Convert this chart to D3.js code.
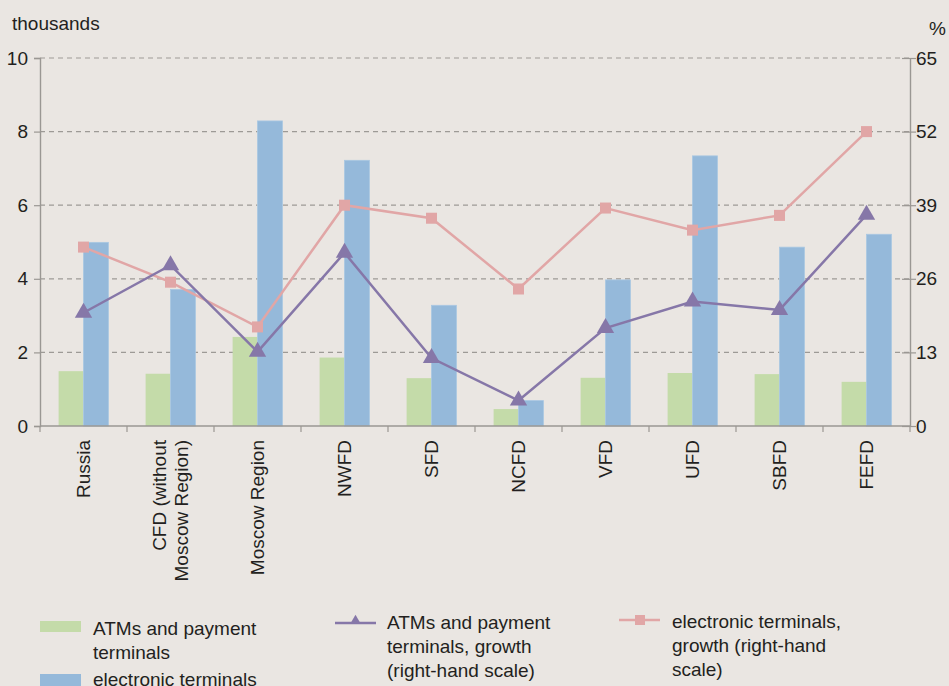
<!DOCTYPE html>
<html>
<head>
<meta charset="utf-8">
<script src="https://cdn.jsdelivr.net/npm/d3@7"></script>
<style>
  body { margin: 0; background: #eae6e2; }
  svg { display: block; font-family: "Liberation Sans", Arial, sans-serif; }
</style>
</head>
<body>
<svg width="949" height="686"></svg>
<script>
// regions (x axis)
var regions = ["Russia", "CFD (without|Moscow Region)", "Moscow Region", "NWFD", "SFD",
               "NCFD", "VFD", "UFD", "SBFD", "FEFD"];
// thousands, left-hand scale
var atms       = [1.49, 1.42, 2.42, 1.86, 1.30, 0.46, 1.31, 1.44, 1.41, 1.20];
var electronic = [4.99, 3.71, 8.29, 7.22, 3.28, 0.69, 3.97, 7.34, 4.86, 5.21];
// growth, %, right-hand scale
var atmsGrowth       = [20.0, 28.4, 13.1, 30.6, 12.0, 4.5, 17.3, 22.0, 20.5, 37.3];
var electronicGrowth = [31.6, 25.4, 17.5, 39.0, 36.7, 24.2, 38.5, 34.6, 37.2, 52.0];
var leftTicks = [0, 2, 4, 6, 8, 10];
var rightTicks = [0, 13, 26, 39, 52, 65];

var svg = d3.select("svg");
var plotLeft = 40, plotRight = 910, plotTop = 58, plotBottom = 426;

var green = "#c4dba9", blue = "#95b9da", purple = "#8677a8", pink = "#e1a6a6";
var axisCol = "#9a9793", txt = "#231f20";

var x = d3.scaleBand().domain(d3.range(regions.length)).range([plotLeft, plotRight]).padding(0);
var bw = x.bandwidth();
var xSub = d3.scaleBand().domain(["atm", "el"]).range([bw * 0.214, bw * 0.786]).padding(0);
var y = d3.scaleLinear().domain([0, 10]).range([plotBottom, plotTop]);
var y2 = d3.scaleLinear().domain([0, 65]).range([plotBottom, plotTop]);

// grid lines
svg.append("g")
    .selectAll("line")
    .data(leftTicks.slice(1))
    .enter().append("line")
    .attr("x1", plotLeft).attr("x2", plotRight)
    .attr("y1", function(d) { return y(d); })
    .attr("y2", function(d) { return y(d); })
    .attr("stroke", "#9d9a96")
    .attr("stroke-width", 1.2)
    .attr("stroke-dasharray", "5,4");

// bars
var groups = svg.append("g").selectAll("g")
    .data(regions)
    .enter().append("g")
    .attr("transform", function(d, i) { return "translate(" + x(i) + ",0)"; });

groups.append("rect")
    .attr("x", xSub("atm"))
    .attr("width", xSub.bandwidth())
    .attr("y", function(d, i) { return y(atms[i]); })
    .attr("height", function(d, i) { return plotBottom - y(atms[i]); })
    .attr("fill", green);

groups.append("rect")
    .attr("x", xSub("el"))
    .attr("width", xSub.bandwidth())
    .attr("y", function(d, i) { return y(electronic[i]); })
    .attr("height", function(d, i) { return plotBottom - y(electronic[i]); })
    .attr("fill", blue)
    .attr("stroke", "#a9c7e2")
    .attr("stroke-width", 0.8);

// axes
var leftAxis = svg.append("g")
    .attr("transform", "translate(" + plotLeft + ",0)")
    .call(d3.axisLeft(y).tickValues(leftTicks).tickSize(6).tickPadding(6).tickFormat(d3.format("d")));

var rightAxis = svg.append("g")
    .attr("transform", "translate(" + plotRight + ",0)")
    .call(d3.axisRight(y2).tickValues(rightTicks).tickSizeInner(6).tickSizeOuter(0).tickPadding(6));
rightAxis.selectAll(".tick line").attr("x1", -8);

var bottomAxis = svg.append("g")
    .attr("transform", "translate(0," + plotBottom + ")");
bottomAxis.append("line")
    .attr("x1", plotLeft).attr("x2", plotRight)
    .attr("stroke", axisCol).attr("stroke-width", 1.4);
bottomAxis.selectAll(".bt")
    .data(d3.range(regions.length + 1))
    .enter().append("line")
    .attr("class", "bt")
    .attr("x1", function(d) { return plotLeft + d * bw; })
    .attr("x2", function(d) { return plotLeft + d * bw; })
    .attr("y1", 0).attr("y2", 6)
    .attr("stroke", axisCol).attr("stroke-width", 1.2);

[leftAxis, rightAxis].forEach(function(a) {
    a.select(".domain").attr("stroke", axisCol).attr("stroke-width", 1.4);
    a.selectAll(".tick line").attr("stroke", axisCol).attr("stroke-width", 1.2);
    a.selectAll("text").attr("font-size", 19).attr("fill", txt)
        .attr("font-family", "'Liberation Sans', Arial, sans-serif");
});
rightAxis.selectAll("text").attr("x", 6);

// category labels
var labels = svg.append("g").selectAll("text")
    .data(regions)
    .enter().append("text")
    .attr("transform", function(d, i) { return "translate(" + (x(i) + bw / 2) + ",440) rotate(-90)"; })
    .attr("text-anchor", "end")
    .attr("font-size", 19)
    .attr("fill", txt);
labels.each(function(d) {
    var parts = d.split("|");
    var t = d3.select(this);
    parts.forEach(function(p, k) {
        t.append("tspan")
            .attr("x", 0)
            .attr("y", (k - (parts.length - 1) / 2) * 22)
            .attr("dy", "0.35em")
            .text(p);
    });
});

// growth lines
var cx = function(d, i) { return x(i) + bw / 2; };
var line = d3.line().x(function(d, i) { return x(i) + bw / 2; });

svg.append("path")
    .datum(electronicGrowth)
    .attr("d", line.y(function(d) { return y2(d); }))
    .attr("fill", "none").attr("stroke", pink).attr("stroke-width", 2.5);

svg.append("g").selectAll("rect")
    .data(electronicGrowth)
    .enter().append("rect")
    .attr("x", function(d, i) { return cx(d, i) - 5.5; })
    .attr("y", function(d) { return y2(d) - 5.5; })
    .attr("width", 11).attr("height", 11)
    .attr("fill", pink);

svg.append("path")
    .datum(atmsGrowth)
    .attr("d", line.y(function(d) { return y2(d); }))
    .attr("fill", "none").attr("stroke", purple).attr("stroke-width", 2.5);

var tri = d3.symbol().type(d3.symbolTriangle).size(130);
svg.append("g").selectAll("path")
    .data(atmsGrowth)
    .enter().append("path")
    .attr("d", tri)
    .attr("transform", function(d, i) { return "translate(" + cx(d, i) + "," + y2(d) + ")"; })
    .attr("fill", purple);

// axis titles
svg.append("text").attr("x", 12).attr("y", 30).attr("font-size", 19).attr("fill", txt).text("thousands");
svg.append("text").attr("x", 946).attr("y", 35).attr("text-anchor", "end").attr("font-size", 19).attr("fill", txt).text("%");

// legend
var legend = svg.append("g").attr("font-size", 19).attr("fill", txt);

legend.append("rect").attr("x", 40).attr("y", 621).attr("width", 41).attr("height", 11).attr("fill", green);
legend.append("text").attr("x", 93).attr("y", 635).text("ATMs and payment");
legend.append("text").attr("x", 93).attr("y", 659).text("terminals");
legend.append("rect").attr("x", 40).attr("y", 674).attr("width", 41).attr("height", 12).attr("fill", blue);
legend.append("text").attr("x", 93).attr("y", 686).text("electronic terminals");

legend.append("line").attr("x1", 335).attr("x2", 376).attr("y1", 623).attr("y2", 623)
    .attr("stroke", purple).attr("stroke-width", 2.5);
legend.append("path").attr("d", d3.symbol().type(d3.symbolTriangle).size(50))
    .attr("transform", "translate(355.5,621)").attr("fill", purple);
legend.append("text").attr("x", 387).attr("y", 629).text("ATMs and payment");
legend.append("text").attr("x", 387).attr("y", 653).text("terminals, growth");
legend.append("text").attr("x", 387).attr("y", 677).text("(right-hand scale)");

legend.append("line").attr("x1", 619).attr("x2", 660).attr("y1", 620).attr("y2", 620)
    .attr("stroke", pink).attr("stroke-width", 2.5);
legend.append("rect").attr("x", 635).attr("y", 615).attr("width", 10).attr("height", 10).attr("fill", pink);
legend.append("text").attr("x", 672).attr("y", 628).text("electronic terminals,");
legend.append("text").attr("x", 672).attr("y", 652).text("growth (right-hand");
legend.append("text").attr("x", 672).attr("y", 676).text("scale)");
</script>
</body>
</html>
